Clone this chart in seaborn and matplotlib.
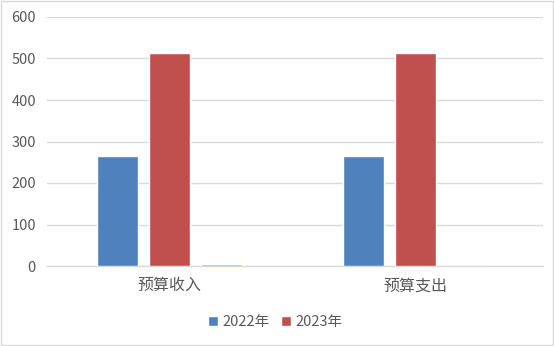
import matplotlib
matplotlib.use("Agg")
import matplotlib.pyplot as plt
import seaborn as sns
import pandas as pd
from matplotlib.patches import Patch

categories = ["预算收入", "预算支出"]
series = ["2022年", "2023年", "其他"]
values_2022 = [265, 265]
values_2023 = [513, 513]
values_other = [4, 0]
colors = ["#4F81BD", "#C0504D", "#9BBB59"]
yticks = [0, 100, 200, 300, 400, 500, 600]

rows = []
for s, vals in zip(series, [values_2022, values_2023, values_other]):
    for c, v in zip(categories, vals):
        rows.append({"category": c, "series": s, "value": v})
df = pd.DataFrame(rows)

sns.set_theme(style="white")
plt.rcParams['font.family'] = ['Noto Sans CJK SC', 'DejaVu Sans']

fig = plt.figure(figsize=(5.54, 3.46), dpi=100)
ax = fig.add_axes([47 / 554, 1 - 266 / 346, 496 / 554, 249 / 346])
sns.barplot(data=df, x="category", y="value", hue="series", hue_order=series,
            palette=colors, width=0.635, gap=0.21, saturation=1, legend=False, ax=ax)

ax.set_ylim(0, 600)
ax.set_yticks(yticks)
ax.set_xlim(-0.499, 1.521)
ax.yaxis.grid(True, color="#D9D9D9", linewidth=1)
ax.set_axisbelow(True)
for s in ["left", "right", "top"]:
    ax.spines[s].set_visible(False)
ax.spines["bottom"].set_color("#D9D9D9")
ax.spines["bottom"].set_linewidth(1)
ax.spines["bottom"].set_zorder(0.5)
ax.set_xlabel("")
ax.set_ylabel("")
ax.tick_params(axis="both", length=0, colors="#595959")
ax.tick_params(axis="y", pad=8, labelsize=10.5)
ax.tick_params(axis="x", pad=8, labelsize=11.5)

handles = [Patch(facecolor=colors[0]), Patch(facecolor=colors[1])]
fig.legend(handles, series[:2], loc="center", bbox_to_anchor=(0.497, 0.068), ncol=2,
           frameon=False, fontsize=10.5, handlelength=0.7, handleheight=0.7,
           handletextpad=0.3, columnspacing=0.8, labelcolor="#595959")

border = plt.Rectangle((0.001, 0.002), 0.997, 0.995, transform=fig.transFigure,
                       fill=False, edgecolor="#D9D9D9", linewidth=1)
fig.patches.append(border)

fig.savefig("out.png", dpi=100)
